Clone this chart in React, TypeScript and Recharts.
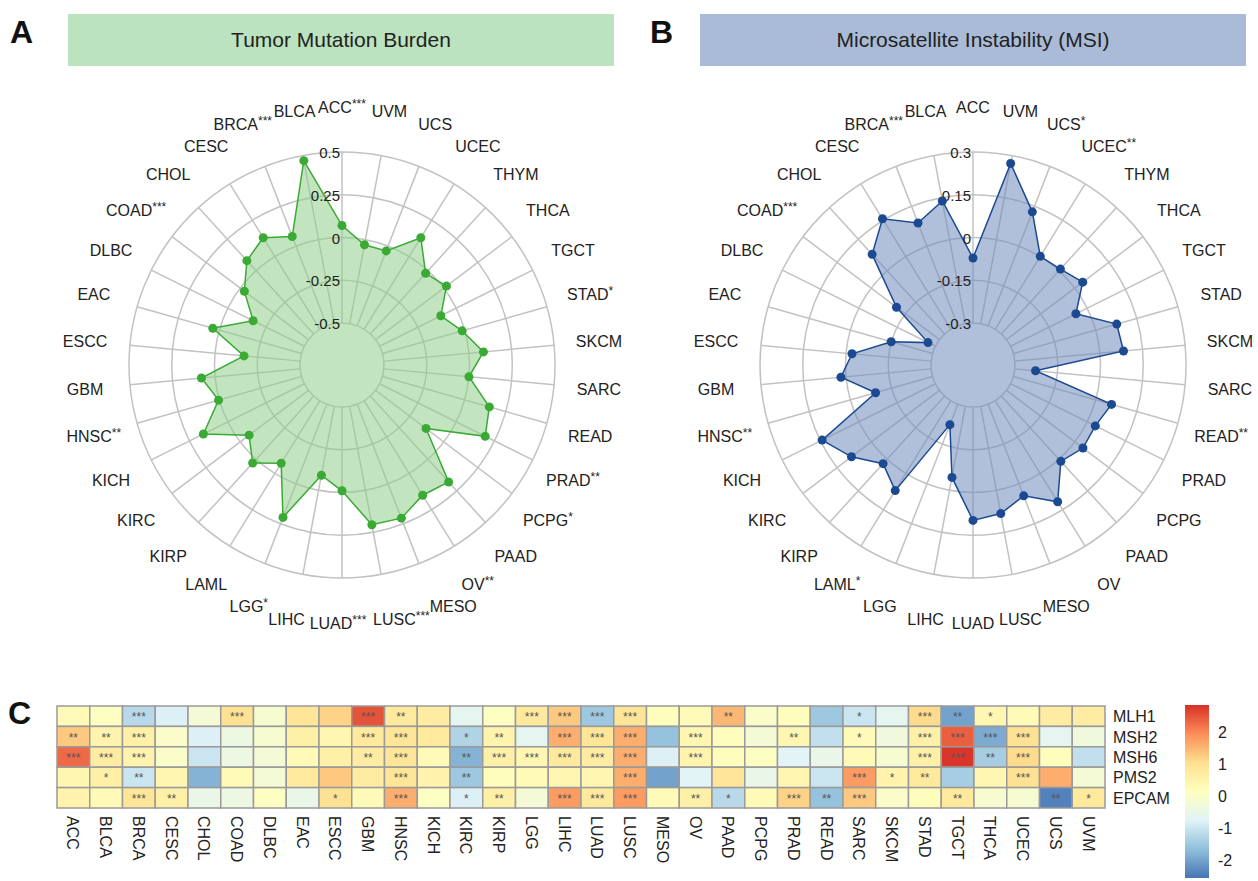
import React from 'react';
import {
  RadarChart,
  PolarGrid,
  PolarAngleAxis,
  PolarRadiusAxis,
  Radar,
  ScatterChart,
  Scatter,
  XAxis,
  YAxis,
} from 'recharts';

const FONT = '"Liberation Sans", Arial, sans-serif';

// radar categories (counter-clockwise from top)
const cancers = ['ACC', 'BLCA', 'BRCA', 'CESC', 'CHOL', 'COAD', 'DLBC', 'EAC', 'ESCC', 'GBM', 'HNSC', 'KICH',
  'KIRC', 'KIRP', 'LAML', 'LGG', 'LIHC', 'LUAD', 'LUSC', 'MESO', 'OV', 'PAAD', 'PCPG', 'PRAD', 'READ', 'SARC',
  'SKCM', 'STAD', 'TGCT', 'THCA', 'THYM', 'UCEC', 'UCS', 'UVM'];

const tmb = [0.47, 0.06, 0.13, 0.08, -0.03, -0.165, 0.04, -0.17, 0.08, 0.005, 0.16, -0.065,
  0.03, -0.07, 0.21, -0.09, -0.01, 0.205, 0.215, 0.15, 0.18, -0.13, 0.19, 0.15, 0.0, 0.085,
  -0.015, -0.1, 0.02, -0.02, 0.13, -0.03, -0.03, 0.07];
const tmbSig = ['***', '', '***', '', '', '***', '', '', '', '', '**', '',
  '', '', '', '*', '', '***', '***', '', '**', '', '*', '**', '', '',
  '', '*', '', '', '', '', '', ''];
const tmbTicks = [-0.5, -0.25, 0, 0.25, 0.5];

const msi = [0.138, 0.087, 0.156, 0.078, -0.111, -0.271, -0.149, -0.021, 0.018, -0.092, 0.144, 0.087,
  0.021, 0.071, -0.223, -0.046, 0.098, 0.083, 0.045, 0.117, 0.01, 0.036, 0.032, 0.058, -0.227, 0.083,
  0.077, -0.044, 0.035, 0.008, 0.001, 0.129, 0.272, -0.072];
const msiSig = ['', '', '***', '', '', '***', '', '', '', '', '**', '',
  '', '', '*', '', '', '', '', '', '', '', '', '', '**', '',
  '', '', '', '', '', '**', '*', ''];
const msiTicks = [-0.3, -0.15, 0, 0.15, 0.3];

// heatmap
const heatCols = ['ACC', 'BLCA', 'BRCA', 'CESC', 'CHOL', 'COAD', 'DLBC', 'EAC', 'ESCC', 'GBM', 'HNSC', 'KICH',
  'KIRC', 'KIRP', 'LGG', 'LIHC', 'LUAD', 'LUSC', 'MESO', 'OV', 'PAAD', 'PCPG', 'PRAD', 'READ', 'SARC',
  'SKCM', 'STAD', 'TGCT', 'THCA', 'UCEC', 'UCS', 'UVM'];
const genes = ['MLH1', 'MSH2', 'MSH6', 'PMS2', 'EPCAM'];

const mlh1 = [0.3, 0.1, -1.2, -0.8, -0.2, 1.0, -0.1, 0.9, 1.2, 2.5, 0.8, 0.7, -0.6, 0.1, 0.8, 1.3, -1.5, 0.9,
  0.2, 0.3, 1.5, 0.0, 0.2, -1.5, -1.0, -0.6, 1.1, -2.0, 0.4, 0.3, 0.7, 0.7];
const msh2 = [1.3, 0.5, 0.6, 0.0, -0.8, -0.4, -0.1, 0.6, 0.4, 0.8, 0.9, 0.8, -1.3, 0.5, -0.6, 1.6, 0.9, 1.6,
  -1.6, 0.4, 0.2, -0.2, 0.4, -1.1, 0.3, -0.3, 0.6, 2.4, -1.9, 1.0, -0.6, -0.3];
const msh6 = [2.3, 0.7, 0.5, 0.0, -1.0, -0.4, -0.2, 0.3, 0.6, 0.7, 0.9, 0.3, -1.8, 0.6, 0.4, 0.8, 0.7, 1.6,
  -0.8, 0.5, 0.2, 0.1, -0.7, -0.5, 0.3, -0.1, 0.6, 2.8, -1.4, 1.1, 0.2, -1.1];
const pms2 = [0.4, 0.6, -1.0, 0.4, -1.8, 0.3, -0.2, 0.8, 1.3, 0.7, 0.9, 0.5, -1.5, 0.2, 0.3, 0.4, 0.4, 1.6,
  -2.0, -0.7, 0.9, -0.5, 0.4, -1.0, 1.8, 0.5, 0.8, -1.4, 0.4, 1.0, 1.6, -0.2];
const epcam = [0.5, 0.3, 0.9, 0.6, -0.5, -0.4, 0.1, -0.5, 1.0, 0.3, 1.6, 0.1, -0.8, 0.6, -0.2, 1.8, 0.8, 1.8,
  0.3, 0.6, -1.2, 0.3, 1.2, -1.6, 1.3, 0.0, 0.2, 0.8, -0.1, -0.1, -2.4, 0.8];

const mlh1Sig = ['', '', '***', '', '', '***', '', '', '', '***', '**', '', '', '', '***', '***', '***', '***',
  '', '', '**', '', '', '', '*', '', '***', '**', '*', '', '', ''];
const msh2Sig = ['**', '**', '***', '', '', '', '', '', '', '***', '***', '', '*', '**', '', '***', '***', '***',
  '', '***', '', '', '**', '', '*', '', '***', '***', '***', '***', '', ''];
const msh6Sig = ['***', '***', '***', '', '', '', '', '', '', '**', '***', '', '**', '***', '***', '***', '***', '***',
  '', '***', '', '', '', '', '', '', '***', '***', '**', '***', '', ''];
const pms2Sig = ['', '*', '**', '', '', '', '', '', '', '', '***', '', '**', '', '', '', '', '***',
  '', '', '', '', '', '', '***', '*', '**', '', '', '***', '', ''];
const epcamSig = ['', '', '***', '**', '', '', '', '', '*', '', '***', '', '*', '**', '', '***', '***', '***',
  '', '**', '*', '', '***', '**', '***', '', '', '**', '', '', '**', '*'];

const legendTicks = [2, 1, 0, -1, -2];

const heatValues = [mlh1, msh2, msh6, pms2, epcam];
const heatSig = [mlh1Sig, msh2Sig, msh6Sig, pms2Sig, epcamSig];

const PAL = ['#4575B4', '#91BFDB', '#E0F3F8', '#FFFFBF', '#FEE090', '#FC8D59', '#D73027'];
const LO = -2.55;
const HI = 2.85;

// small horizontal label shifts so crowded labels don't collide
const NUDGE_A: Record<string, number> = { BRCA: -6, LIHC: -8, LUAD: -4, LUSC: 12, MESO: 18 };
const NUDGE_B: Record<string, number> = { BRCA: -6 };

function hex(c: string) {
  return [1, 3, 5].map((i) => parseInt(c.slice(i, i + 2), 16));
}

function heatColor(v: number) {
  const t = Math.max(0, Math.min(1, (v - LO) / (HI - LO))) * (PAL.length - 1);
  const i = Math.min(PAL.length - 2, Math.floor(t));
  const f = t - i;
  const a = hex(PAL[i]);
  const b = hex(PAL[i + 1]);
  const m = a.map((x, k) => Math.round(x + (b[k] - x) * f));
  return `rgb(${m[0]},${m[1]},${m[2]})`;
}

const radarA = cancers.map((name, i) => ({ name, value: tmb[i] }));
const radarB = cancers.map((name, i) => ({ name, value: msi[i] }));

const heatData = genes.flatMap((g, r) =>
  heatCols.map((c, k) => ({ x: k + 0.5, y: r + 0.5, v: heatValues[r][k], s: heatSig[r][k] }))
);

const CX_A = 342;
const CX_B = 973;
const CY = 365;
const LABEL_R = 258;
const HEAT_W = 1048;
const HEAT_H = 102;

const angleTick = (cx: number, sig: string[], nudge: Record<string, number>) => (p: any) => {
  const i = p.index;
  const ang = (90 + (i * 360) / cancers.length) * (Math.PI / 180);
  const x = cx + Math.cos(-ang) * LABEL_R + (nudge[cancers[i]] || 0);
  const y = CY + Math.sin(-ang) * LABEL_R;
  return (
    <text x={x} y={y} dy={6} textAnchor="middle" fontSize={16} fill="#222" fontFamily={FONT}>
      {cancers[i]}
      {sig[i] ? (
        <tspan fontSize={12} dy={-5}>
          {sig[i]}
        </tspan>
      ) : null}
    </text>
  );
};

const radiusTick = (p: any) => (
  <text x={p.x - 2} y={p.y} dy={6} textAnchor="end" fontSize={15} fill="#222" fontFamily={FONT}>
    {p.payload.value}
  </text>
);

function Spider(props: {
  data: any[];
  cx: number;
  ticks: number[];
  color: string;
  fill: string;
  sig: string[];
  nudge: Record<string, number>;
}) {
  const t = props.ticks;
  return (
    <RadarChart
      width={props.cx + 320}
      height={680}
      data={props.data}
      cx={props.cx}
      cy={CY}
      innerRadius={42}
      outerRadius={213}
      startAngle={90}
      endAngle={450}
      margin={{ top: 0, right: 0, bottom: 0, left: 0 }}
    >
      <PolarGrid gridType="circle" stroke="#c2c2c2" strokeWidth={1.5} polarRadius={t.map((v) => 42 + ((v - t[0]) / (t[t.length - 1] - t[0])) * 171)} />
      <PolarAngleAxis dataKey="name" axisLine={false} tickLine={false} tick={angleTick(props.cx, props.sig, props.nudge)} />
      <PolarRadiusAxis
        type="number"
        angle={90}
        domain={[t[0], t[t.length - 1]]}
        allowDataOverflow
        allowDecimals
        ticks={t as any}
        tickCount={t.length}
        axisLine={false}
        tick={radiusTick}
      />
      <Radar
        dataKey="value"
        stroke={props.color}
        strokeWidth={1.5}
        fill={props.fill}
        fillOpacity={0.55}
        dot={{ r: 4.5, fill: props.color, stroke: props.color, strokeWidth: 0, fillOpacity: 1 }}
        isAnimationActive={false}
      />
    </RadarChart>
  );
}

const HeatCell = (p: any) => {
  const w = HEAT_W / heatCols.length;
  const h = HEAT_H / genes.length;
  return (
    <g>
      <rect x={p.cx - w / 2} y={p.cy - h / 2} width={w} height={h} fill={heatColor(p.payload.v)} stroke="#9a9a9a" strokeWidth={1.5} />
      {p.payload.s ? (
        <text x={p.cx} y={p.cy} dy={5} textAnchor="middle" fontSize={12} fill="#555" fontFamily={FONT}>
          {p.payload.s}
        </text>
      ) : null}
    </g>
  );
};

const colTick = (p: any) => (
  <text
    x={p.x}
    y={p.y}
    transform={`rotate(90, ${p.x}, ${p.y})`}
    textAnchor="start"
    dy={6}
    fontSize={16}
    fill="#222"
    fontFamily={FONT}
  >
    {heatCols[Math.floor(p.payload.value)]}
  </text>
);

const rowTick = (p: any) => (
  <text x={p.x} y={p.y} dy={6} textAnchor="start" fontSize={16} fill="#222" fontFamily={FONT}>
    {genes[Math.floor(p.payload.value)]}
  </text>
);

const Box = (props: { left: number; bg: string; text: string }) => (
  <div
    style={{
      position: 'absolute',
      left: props.left,
      top: 14,
      width: 546,
      height: 52,
      background: props.bg,
      display: 'flex',
      alignItems: 'center',
      justifyContent: 'center',
      fontSize: 21,
      color: '#222',
      fontFamily: FONT,
    }}
  >
    {props.text}
  </div>
);

const Letter = (props: { left: number; top: number; text: string }) => (
  <div style={{ position: 'absolute', left: props.left, top: props.top, fontSize: 32, fontWeight: 'bold', fontFamily: FONT, color: '#111', lineHeight: '32px' }}>
    {props.text}
  </div>
);

export default function App() {
  const legY = (v: number) => 878 - ((v - LO) / (HI - LO)) * 173;
  return (
    <div style={{ position: 'absolute', left: 0, top: 0, width: 1258, height: 881, background: '#fff', overflow: 'hidden' }}>
      <Letter left={10} top={16} text="A" />
      <Letter left={650} top={16} text="B" />
      <Letter left={8} top={697} text="C" />
      <Box left={68} bg="#bce3bf" text="Tumor Mutation Burden" />
      <Box left={700} bg="#a9bbd6" text="Microsatellite Instability (MSI)" />

      <div style={{ position: 'absolute', left: 0, top: 0 }}>
        <Spider data={radarA} cx={CX_A} ticks={tmbTicks} color="#3aaa35" fill="#8fd08a" sig={tmbSig} nudge={NUDGE_A} />
      </div>
      <div style={{ position: 'absolute', left: 0, top: 0 }}>
        <Spider data={radarB} cx={CX_B} ticks={msiTicks} color="#1c4a92" fill="#6f8bbb" sig={msiSig} nudge={NUDGE_B} />
      </div>

      <div style={{ position: 'absolute', left: 0, top: 690 }}>
        <ScatterChart width={1258} height={191} margin={{ top: 16, right: 53, bottom: 13, left: 57 }}>
          <XAxis
            type="number"
            dataKey="x"
            domain={[0, heatCols.length]}
            ticks={heatCols.map((c, i) => i + 0.5)}
            interval={0}
            axisLine={false}
            tickLine={false}
            height={60}
            tick={colTick}
          />
          <YAxis
            type="number"
            dataKey="y"
            orientation="right"
            reversed
            domain={[0, genes.length]}
            ticks={genes.map((g, i) => i + 0.5)}
            interval={0}
            axisLine={false}
            tickLine={false}
            width={100}
            tick={rowTick}
          />
          <Scatter data={heatData} shape={HeatCell} isAnimationActive={false} />
        </ScatterChart>
      </div>

      <svg style={{ position: 'absolute', left: 0, top: 0 }} width={1258} height={881} pointerEvents="none">
        <defs>
          <linearGradient id="heatGrad" x1="0" y1="1" x2="0" y2="0">
            {PAL.map((c, i) => (
              <stop key={c} offset={i / (PAL.length - 1)} stopColor={c} />
            ))}
          </linearGradient>
        </defs>
        <rect x={1185} y={legY(HI)} width={24} height={legY(LO) - legY(HI)} fill="url(#heatGrad)" />
        {legendTicks.map((t) => (
          <text key={t} x={1218} y={legY(t)} dy={6} fontSize={16} fill="#222" fontFamily={FONT}>
            {t}
          </text>
        ))}
      </svg>
    </div>
  );
}
